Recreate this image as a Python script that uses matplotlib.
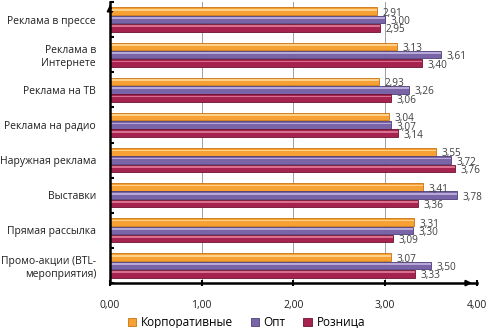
import numpy as np
import matplotlib
matplotlib.use("Agg")
import matplotlib.pyplot as plt

plt.rcParams['font.family'] = ['Open Sans', 'DejaVu Sans']

categories = ["Реклама в прессе", "Реклама в\nИнтернете", "Реклама на ТВ",
              "Реклама на радио", "Наружная реклама", "Выставки",
              "Прямая рассылка", "Промо-акции (BTL-\nмероприятия)"]
series_names = ["Корпоративные", "Опт", "Розница"]
corp = [2.91, 3.13, 2.93, 3.04, 3.55, 3.41, 3.31, 3.07]
opt = [3.00, 3.61, 3.26, 3.07, 3.72, 3.78, 3.30, 3.50]
retail = [2.95, 3.40, 3.06, 3.14, 3.76, 3.36, 3.09, 3.33]
xticks = [0, 1, 2, 3, 4]

colors = ["#F7A033", "#7864A6", "#A6234F"]
edges = ["#C87414", "#4E3F7A", "#6E1231"]
highlights = ["#FDD08A", "#B7A8D8", "#D9708F"]

fig = plt.figure(figsize=(4.9, 3.28), dpi=100)
ax = fig.add_axes([0.2245, 0.137, 0.7485, 0.857])

y = np.arange(len(categories))
h = 0.235
for i, (vals, name) in enumerate(zip([corp, opt, retail], series_names)):
    pos = y + (i - 1) * h
    ax.barh(pos, vals, height=h * 0.92, color=colors[i], edgecolor=edges[i],
            linewidth=0.6, label=name, zorder=3)
    # light strip to mimic the glossy look
    ax.barh(pos - h * 0.18, vals, height=h * 0.2, color=highlights[i],
            linewidth=0, zorder=4)
    for p, v in zip(pos, vals):
        ax.text(v + 0.06, p + 0.06, f"{v:.2f}".replace(".", ","), va="center",
                ha="left", fontsize=7.2, color="#404040", zorder=5)

ax.set_ylim(len(categories) - 0.5, -0.5)
ax.set_xlim(0, 4)
ax.set_yticks(y)
ax.set_yticklabels(categories, fontsize=7.5, color="#202020")
ax.set_yticks(np.arange(len(categories) + 1) - 0.5, minor=True)
ax.tick_params(axis="y", which="major", length=0, pad=10)
ax.tick_params(axis="y", which="minor", length=3, width=1.5, direction="in")
ax.set_xticks(xticks)
ax.set_xticklabels([f"{t:.2f}".replace(".", ",") for t in xticks],
                   fontsize=7.5, color="#202020")
ax.tick_params(axis="x", length=4, width=1.5, direction="inout", pad=10)

ax.grid(axis="x", color="#A0A0A0", linewidth=0.7, zorder=0)
for s in ["top", "right"]:
    ax.spines[s].set_visible(False)
for s in ["left", "bottom"]:
    ax.spines[s].set_linewidth(1.8)
    ax.spines[s].set_zorder(6)

# arrow heads on axes
ax.annotate("", xy=(0, 1.0), xytext=(0, 0.97), xycoords="axes fraction",
            arrowprops=dict(arrowstyle="-|>", color="black", lw=1.5,
                            mutation_scale=8), annotation_clip=False)
ax.annotate("", xy=(0.995, 0), xytext=(0.96, 0), xycoords="axes fraction",
            arrowprops=dict(arrowstyle="-|>", color="black", lw=1.5,
                            mutation_scale=8), annotation_clip=False)

handles, labels = ax.get_legend_handles_labels()
fig.legend(handles[:3], labels[:3], loc="lower center", ncol=3, frameon=False,
           fontsize=8.5, handlelength=0.7, handleheight=0.7, handletextpad=0.4,
           columnspacing=1.5, bbox_to_anchor=(0.503, -0.035))

fig.savefig("out.png", dpi=100)
